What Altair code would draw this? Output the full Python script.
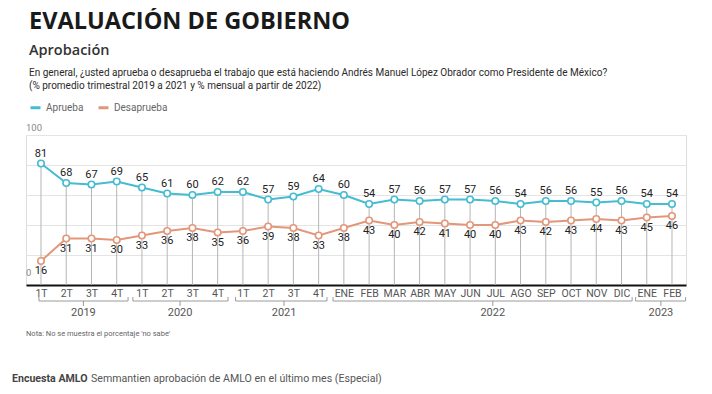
import altair as alt
import pandas as pd

# ---- data ----
periods = ["1T", "2T", "3T", "4T", "1T", "2T", "3T", "4T", "1T", "2T", "3T", "4T",
           "ENE", "FEB", "MAR", "ABR", "MAY", "JUN", "JUL", "AGO", "SEP", "OCT", "NOV", "DIC",
           "ENE", "FEB"]
aprueba = [81, 68, 67, 69, 65, 61, 60, 62, 62, 57, 59, 64,
           60, 54, 57, 56, 57, 57, 56, 54, 56, 56, 55, 56, 54, 54]
desaprueba = [16, 31, 31, 30, 33, 36, 38, 35, 36, 39, 38, 33,
              38, 43, 40, 42, 41, 40, 40, 43, 42, 43, 44, 43, 45, 46]
years = ["2019", "2020", "2021", "2022", "2023"]
year_start = [-0.08, 3.64, 7.71, 11.57, 23.56]   # bracket extents (point index)
year_end = [3.45, 7.41, 11.33, 23.42, 25.54]
year_label_pos = [1.68, 5.51, 9.63, 17.9, 24.56]
series_names = ["Aprueba", "Desaprueba"]
series_colors = ["#45bcd2", "#e3977a"]

idx = list(range(len(periods)))
wide = pd.DataFrame({"i": idx, "periodo": periods, "Aprueba": aprueba, "Desaprueba": desaprueba})
long = pd.concat([
    pd.DataFrame({"i": idx, "serie": "Aprueba", "valor": aprueba}),
    pd.DataFrame({"i": idx, "serie": "Desaprueba", "valor": desaprueba}),
])
yrs = pd.DataFrame({"year": years, "x0": year_start, "x1": year_end, "xm": year_label_pos})

NARROW = "'Liberation Sans Narrow', 'Arial Narrow', Roboto, sans-serif"

label_expr = "[" + ",".join("'%s'" % p for p in periods) + "][datum.value]"

xs = alt.Scale(domain=[-0.594, 25.555], nice=False, zero=False)
ys = alt.Scale(domain=[0, 100], nice=False)
x_axis = alt.Axis(values=idx, labelExpr=label_expr, title=None, grid=False, ticks=False,
                  domainColor="#111111", domainWidth=2, labelFont=NARROW, labelFontSize=10.5,
                  labelColor="#555555", labelPadding=3, labelFlush=False, labelOverlap=False,
                  labelBound=False)
y_axis = alt.Axis(values=[0, 20, 40, 60, 80, 100], labels=False, ticks=False, domain=False,
                  title=None, grid=True, gridColor="#e4e4e4", gridWidth=1)


def XQ(f):
    return alt.X(f, type="quantitative", scale=xs, axis=x_axis)


def YQ(f):
    return alt.Y(f, type="quantitative", scale=ys, axis=y_axis)


drops = alt.Chart(wide).mark_rule(color="#b5b5b5", strokeWidth=1).encode(
    x=XQ("i"), y=YQ("Aprueba"), y2=alt.datum(0))

color = alt.Color("serie:N", scale=alt.Scale(domain=series_names, range=series_colors),
                  legend=alt.Legend(title=None, orient="none", legendX=3, legendY=-34,
                                    direction="horizontal", symbolType="stroke",
                                    symbolStrokeWidth=3, symbolSize=100, labelFont="Roboto",
                                    labelFontSize=10, labelColor="#666666", columnPadding=8,
                                    labelOffset=4, padding=0))

lines = alt.Chart(long).mark_line(strokeWidth=2).encode(x=XQ("i"), y=YQ("valor"), color=color)
points = alt.Chart(long).mark_point(size=42, filled=False, fill="white", opacity=1,
                                    strokeWidth=1.6).encode(x=XQ("i"), y=YQ("valor"), color=color)

lab_a = alt.Chart(wide).mark_text(font=NARROW, fontSize=11, color="#222222", dy=-10,
                                  baseline="middle").encode(
    x=XQ("i"), y=YQ("Aprueba"), text="Aprueba:Q")
lab_d = alt.Chart(wide).mark_text(font=NARROW, fontSize=11, color="#222222", dy=10,
                                  baseline="middle").encode(
    x=XQ("i"), y=YQ("Desaprueba"), text="Desaprueba:Q")

ylab_top = alt.Chart(pd.DataFrame({"v": [100], "t": ["100"]})).mark_text(
    align="left", baseline="bottom", font="Roboto", fontSize=9.5, color="#888888", dy=-2).encode(
    x=alt.value(0), y=YQ("v"), text="t:N")
ylab_zero = alt.Chart(pd.DataFrame({"v": [0], "t": ["0"]})).mark_text(
    align="left", baseline="bottom", font="Roboto", fontSize=9.5, color="#888888", dy=-7).encode(
    x=alt.value(0), y=YQ("v"), text="t:N")

# year brackets
br_h = alt.Chart(yrs).mark_rule(color="#9a9a9a", strokeWidth=1).encode(
    x=XQ("x0"), x2="x1:Q", y=alt.value(166))
br_l = alt.Chart(yrs).mark_rule(color="#9a9a9a", strokeWidth=1).encode(
    x=XQ("x0"), y=alt.value(162), y2=alt.value(166))
br_r = alt.Chart(yrs).mark_rule(color="#9a9a9a", strokeWidth=1).encode(
    x=XQ("x1"), y=alt.value(162), y2=alt.value(166))
br_c = alt.Chart(yrs).mark_rule(color="#9a9a9a", strokeWidth=1).encode(
    x=XQ("xm"), y=alt.value(166), y2=alt.value(171))
yr_text = alt.Chart(yrs).mark_text(font=NARROW, fontSize=11, color="#555555", baseline="middle").encode(
    x=XQ("xm"), y=alt.value(178), text="year:N")


def txt(s, x, y, **kw):
    return alt.Chart(pd.DataFrame({"t": [s]})).mark_text(align="left", baseline="alphabetic", **kw).encode(
        x=alt.value(x), y=alt.value(y), text="t:N")


title = txt("EVALUACIÓN DE GOBIERNO", 3, -106, font="Open Sans", fontSize=23.5, fontWeight="bold",
            color="#1a1a1a")
sub = txt("Aprobación", 3, -80, font="Open Sans", fontSize=14.5, fontWeight=600, color="#333333")
q1 = txt("En general, ¿usted aprueba o desaprueba el trabajo que está haciendo Andrés Manuel López Obrador como Presidente de México?",
         3, -59, font="Roboto", fontSize=10, color="#2a2a2a")
q2 = txt("(% promedio trimestral 2019 a 2021 y % mensual a partir de 2022)",
         3, -46, font="Roboto", fontSize=10, color="#2a2a2a")
nota = txt("Nota: No se muestra el porcentaje 'no sabe'", 0, 201, font="Roboto", fontSize=7.5,
           color="#666666")
cap1 = txt("Encuesta AMLO", -14, 247, font="Roboto", fontSize=10.6, fontWeight="bold", color="#444444")
cap2 = txt("Semmantien aprobación de AMLO en el último mes (Especial)", 65, 247, font="Roboto",
           fontSize=10.6, color="#555555")

chart = alt.layer(
    drops, lines, points, lab_a, lab_d, ylab_top, ylab_zero,
    br_h, br_l, br_r, br_c, yr_text,
    title, sub, q1, q2, nota, cap1, cap2,
).properties(
    width=660, height=150,
    autosize=alt.AutoSizeParams(type="none"),
    padding={"left": 18, "top": 127, "right": 18, "bottom": 101},
).configure_view(stroke=None).configure(background="white")

chart.save("out.html", embed_options={"renderer": "svg", "actions": False})
